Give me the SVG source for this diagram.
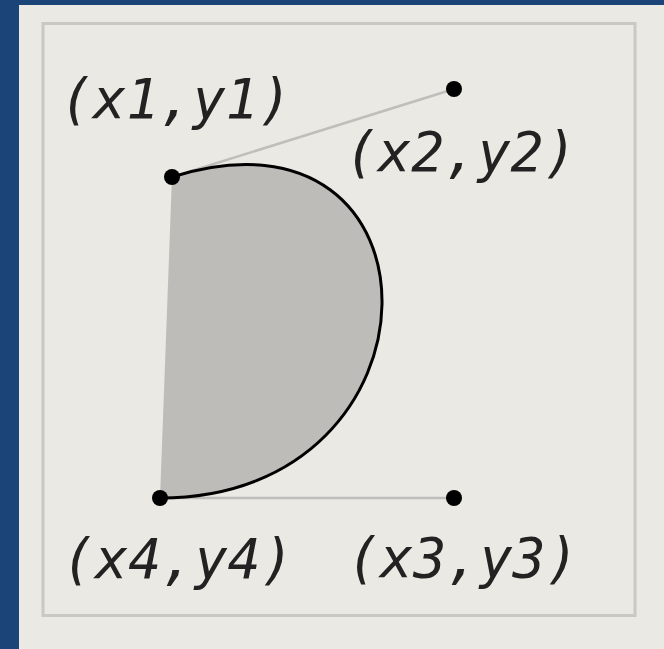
<svg xmlns="http://www.w3.org/2000/svg" width="664" height="649" viewBox="0 0 664 649">
<style>
.lbl{font-family:"DejaVu Sans Mono","Liberation Mono",monospace;font-style:oblique;font-size:55px;fill:#222}
.ctl{stroke:#bfbeba;stroke-width:2.5;fill:none}
.pt{fill:#000}
</style>
<rect x="0" y="0" width="664" height="649" fill="#1b4479"/>
<rect x="19" y="5" width="645" height="644" fill="#ebe9e4"/>
<rect x="43" y="23.5" width="592" height="592" fill="none" stroke="#c9c8c3" stroke-width="3"/>
<g id="connectors">
<line class="ctl" x1="172" y1="177" x2="454" y2="89"/>
<line class="ctl" x1="160" y1="498" x2="454" y2="498"/>
</g>
<g id="shape">
<path d="M172,177 C454,89 454,498 160,498 Z" fill="#bdbcb8"/>
<path d="M172,177 C454,89 454,498 160,498" fill="none" stroke="#000" stroke-width="3"/>
</g>
<g id="p1"><circle class="pt" cx="172" cy="177" r="8"/><text class="lbl" x="60" y="118">(x1,y1)</text></g>
<g id="p2"><circle class="pt" cx="454" cy="89" r="8"/><text class="lbl" x="345" y="171">(x2,y2)</text></g>
<g id="p3"><circle class="pt" cx="454" cy="498" r="8"/><text class="lbl" x="347" y="577">(x3,y3)</text></g>
<g id="p4"><circle class="pt" cx="160" cy="498" r="8"/><text class="lbl" x="62" y="578">(x4,y4)</text></g>
</svg>
